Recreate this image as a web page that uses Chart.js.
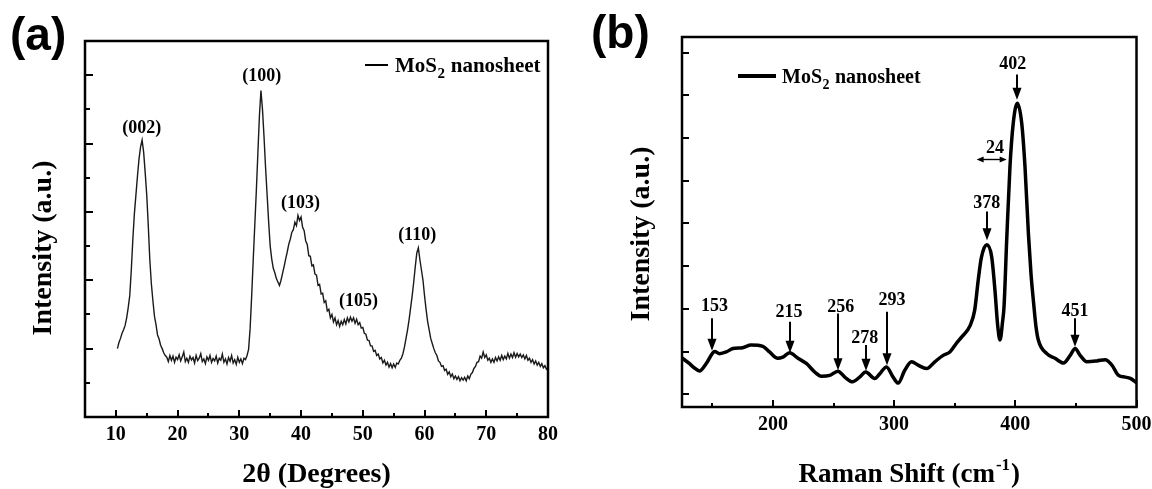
<!DOCTYPE html>
<html>
<head>
<meta charset="utf-8">
<script src="https://cdn.jsdelivr.net/npm/chart.js@4"></script>
<style>
html,body{margin:0;padding:0;background:#fff;}
#wrap{position:relative;width:1152px;height:489px;overflow:hidden;}
.panel{position:absolute;top:0;width:576px;height:489px;}
canvas{display:block;}
</style>
</head>
<body>
<div id="wrap">
  <div class="panel" style="left:0"><canvas id="xrd" width="576" height="489"></canvas></div>
  <div class="panel" style="left:576px"><canvas id="raman" width="576" height="489"></canvas></div>
</div>
<script>
// ---------------- DATA ----------------
const SERIES_NAME = ['MoS', '2', ' nanosheet'];

// (a) XRD pattern
const XRD_TWO_THETA = [
  10.25,10.5,10.75,11,11.25,11.5,11.75,12,12.25,12.5,
  12.75,13,13.25,13.5,13.75,14,14.25,14.5,14.75,15,
  15.25,15.5,15.75,16,16.25,16.5,16.75,17,17.25,17.5,
  17.75,18,18.25,18.5,18.75,19,19.25,19.5,19.75,20,
  20.25,20.5,20.75,21,21.25,21.5,21.75,22,22.25,22.5,
  22.75,23,23.25,23.5,23.75,24,24.25,24.5,24.75,25,
  25.25,25.5,25.75,26,26.25,26.5,26.75,27,27.25,27.5,
  27.75,28,28.25,28.5,28.75,29,29.25,29.5,29.75,30,
  30.25,30.5,30.75,31,31.25,31.5,31.75,32,32.25,32.5,
  32.75,33,33.25,33.5,33.75,34,34.25,34.5,34.75,35,
  35.25,35.5,35.75,36,36.25,36.5,36.75,37,37.25,37.5,
  37.75,38,38.25,38.5,38.75,39,39.25,39.5,39.75,40,
  40.25,40.5,40.75,41,41.25,41.5,41.75,42,42.25,42.5,
  42.75,43,43.25,43.5,43.75,44,44.25,44.5,44.75,45,
  45.25,45.5,45.75,46,46.25,46.5,46.75,47,47.25,47.5,
  47.75,48,48.25,48.5,48.75,49,49.25,49.5,49.75,50,
  50.25,50.5,50.75,51,51.25,51.5,51.75,52,52.25,52.5,
  52.75,53,53.25,53.5,53.75,54,54.25,54.5,54.75,55,
  55.25,55.5,55.75,56,56.25,56.5,56.75,57,57.25,57.5,
  57.75,58,58.25,58.5,58.75,59,59.25,59.5,59.75,60,
  60.25,60.5,60.75,61,61.25,61.5,61.75,62,62.25,62.5,
  62.75,63,63.25,63.5,63.75,64,64.25,64.5,64.75,65,
  65.25,65.5,65.75,66,66.25,66.5,66.75,67,67.25,67.5,
  67.75,68,68.25,68.5,68.75,69,69.25,69.5,69.75,70,
  70.25,70.5,70.75,71,71.25,71.5,71.75,72,72.25,72.5,
  72.75,73,73.25,73.5,73.75,74,74.25,74.5,74.75,75,
  75.25,75.5,75.75,76,76.25,76.5,76.75,77,77.25,77.5,
  77.75,78,78.25,78.5,78.75,79,79.25,79.5,79.75,80
];
const XRD_INTENSITY = [
  2.0,2.18,2.3,2.45,2.55,2.68,2.9,3.2,3.55,4.3,
  5.2,5.95,6.5,7.05,7.55,7.9,8.1,7.75,7.15,6.5,
  5.6,4.6,3.9,3.4,2.95,2.7,2.4,2.28,2.1,2.0,
  1.88,1.8,1.75,1.62,1.8,1.66,1.78,1.6,1.75,1.68,
  1.82,1.64,1.76,1.9,1.62,1.72,1.6,1.78,1.67,1.74,
  1.58,1.8,1.65,1.72,1.85,1.62,1.7,1.56,1.76,1.66,
  1.8,1.6,1.71,1.64,1.78,1.58,1.72,1.66,1.84,1.6,
  1.7,1.55,1.74,1.63,1.8,1.58,1.68,1.54,1.75,1.6,
  1.7,1.56,1.72,1.68,1.8,1.98,2.6,3.55,4.6,5.6,
  6.6,7.7,8.8,9.55,9.0,8.2,7.3,6.5,5.7,5.0,
  4.62,4.35,4.22,4.05,3.95,3.85,4.0,4.2,4.4,4.62,
  4.82,5.05,5.2,5.4,5.48,5.7,5.6,5.9,5.75,5.85,
  5.55,5.45,5.15,5.05,4.72,4.7,4.42,4.45,4.18,4.15,
  3.85,3.88,3.6,3.62,3.35,3.4,3.1,3.15,2.9,3.0,
  2.78,2.9,2.7,2.82,2.65,2.8,2.7,2.85,2.72,2.9,
  2.78,2.92,2.8,2.9,2.74,2.86,2.7,2.76,2.6,2.62,
  2.45,2.42,2.25,2.24,2.08,2.08,1.92,1.95,1.8,1.84,
  1.7,1.74,1.58,1.66,1.52,1.6,1.46,1.56,1.44,1.55,
  1.45,1.58,1.55,1.66,1.72,1.85,2.05,2.3,2.55,2.85,
  3.2,3.55,3.95,4.4,4.8,4.95,4.6,4.3,4.0,3.55,
  3.15,2.8,2.55,2.3,2.15,2.0,1.88,1.8,1.64,1.6,
  1.48,1.5,1.36,1.4,1.25,1.32,1.18,1.26,1.12,1.2,
  1.1,1.18,1.06,1.15,1.08,1.16,1.06,1.2,1.12,1.25,
  1.3,1.42,1.48,1.6,1.62,1.78,1.72,1.9,1.74,1.82,
  1.66,1.72,1.6,1.7,1.6,1.74,1.64,1.76,1.66,1.8,
  1.68,1.78,1.7,1.86,1.72,1.84,1.74,1.88,1.75,1.86,
  1.76,1.84,1.74,1.82,1.7,1.8,1.66,1.72,1.6,1.68,
  1.55,1.64,1.52,1.6,1.48,1.56,1.44,1.5,1.4,1.45
];
const XRD_X_TICKS = [10,20,30,40,50,60,70,80];
const XRD_X_MINOR = [15,25,35,45,55,65,75];
const XRD_Y_MAJOR = [2,4,6,8,10];
const XRD_Y_MINOR = [1,3,5,7,9];
const XRD_PEAK_LABELS = ['(002)','(100)','(103)','(105)','(110)'];
const XRD_PEAK_X = [14.2,33.65,39.9,49.3,58.8];
const XRD_PEAK_Y = [8.45,9.96,6.25,3.37,5.32];

// (b) Raman spectrum
const RAMAN_SHIFT = [
  125,131,135,139.4,145,150.4,152,156,161.5,167,175,182,191.7,197.2,204,208.2,213.8,220.7,227.6,234.5,
  240,246.9,253.7,259.3,265.6,271.6,276.6,284,288.2,293.7,299.2,303.3,308.8,314.4,319.8,326.8,333.6,340.5,346,351.6,
  356,362.6,366.5,369.4,372,376.4,380.5,383.2,385.5,387.4,389.5,390.7,392.9,395.6,398.3,401.7,405.3,408,410.8,413,
  414.9,417,419,426,432.8,439.7,445.3,449.4,453.5,459,467.3,474.2,479.7,485.2,490.7,494.9,500
];
const RAMAN_INTENSITY = [
  0.85,0.72,0.62,0.545,0.72,0.97,1.0,0.95,0.99,1.07,1.09,1.15,1.12,0.99,0.84,0.87,0.97,0.84,0.72,0.52,
  0.42,0.44,0.54,0.40,0.29,0.40,0.52,0.37,0.48,0.64,0.40,0.26,0.56,0.76,0.68,0.60,0.76,0.91,0.99,1.2,
  1.35,1.6,1.97,2.67,3.2,3.5,3.22,2.44,1.6,1.27,1.7,2.05,3.61,5.33,6.35,6.82,6.35,5.33,3.77,2.8,
  2.2,1.6,1.27,0.95,0.84,0.73,0.91,1.07,0.91,0.76,0.78,0.81,0.68,0.44,0.40,0.37,0.27
];
const RAMAN_X_TICKS = [200,300,400,500];
const RAMAN_X_MINOR = [150,250,350,450];
const RAMAN_Y_TICKS = [0,1,2,3,4,5,6,7,8];
const RAMAN_PEAK_LABELS = ['153','215','256','278','293','378','402','451'];
const RAMAN_LABEL_X = [151.8,213.2,256,275.8,298.3,376.4,397.9,449.3];
const RAMAN_LABEL_Y = [2.06,1.91,2.03,1.31,2.19,4.47,7.72,1.93];
const RAMAN_ARROW_X = [150.1,213.8,253.5,276.6,294,376.4,401.4,449.3];
const RAMAN_ARROW_TOP = [1.78,1.70,1.89,1.15,1.93,4.28,7.49,1.78];
const RAMAN_ARROW_TIP = [1.02,0.97,0.56,0.55,0.68,3.61,6.9,1.11];
const RAMAN_SPLIT_LABEL = '24';
const RAMAN_SPLIT = {from: 368.1, to: 392.9, y: 5.51, labelX: 383.2, labelY: 5.77};

// ---------------- HELPERS ----------------
const SERIF = '"Liberation Serif","Times New Roman",serif';
const SANS = '"Liberation Sans",Arial,sans-serif';
function serif(size){ return 'bold ' + size + 'px ' + SERIF; }

function drawFrame(chart, o){
  const {ctx, chartArea:a, scales:{x, y}} = chart;
  ctx.save();
  ctx.strokeStyle = '#000';
  ctx.lineWidth = 2;
  ctx.beginPath();
  o.xMajor.forEach(v => { const p = Math.round(x.getPixelForValue(v)); ctx.moveTo(p, a.bottom); ctx.lineTo(p, a.bottom - o.xMajorLen); });
  o.xMinor.forEach(v => { const p = Math.round(x.getPixelForValue(v)); ctx.moveTo(p, a.bottom); ctx.lineTo(p, a.bottom - o.xMinorLen); });
  o.yMajor.forEach(v => { const p = Math.round(y.getPixelForValue(v)); ctx.moveTo(a.left, p); ctx.lineTo(a.left + o.yMajorLen, p); });
  o.yMinor.forEach(v => { const p = Math.round(y.getPixelForValue(v)); ctx.moveTo(a.left, p); ctx.lineTo(a.left + o.yMinorLen, p); });
  ctx.stroke();
  ctx.lineWidth = o.border;
  ctx.strokeRect(a.left, a.top, a.right - a.left, a.bottom - a.top);
  ctx.restore();
}

function drawLegend(ctx, x0, x1, ly, lw, tx, base, size){
  ctx.save();
  ctx.strokeStyle = '#000'; ctx.lineWidth = lw;
  ctx.beginPath(); ctx.moveTo(x0, ly); ctx.lineTo(x1, ly); ctx.stroke();
  ctx.fillStyle = '#000'; ctx.textAlign = 'left'; ctx.textBaseline = 'alphabetic';
  ctx.font = serif(size);
  ctx.fillText(SERIES_NAME[0], tx, base);
  const w1 = ctx.measureText(SERIES_NAME[0]).width;
  const sub = Math.round(size * 0.7);
  ctx.font = serif(sub);
  ctx.fillText(SERIES_NAME[1], tx + w1 + 0.5, base + size * 0.3);
  const w2 = ctx.measureText(SERIES_NAME[1]).width;
  ctx.font = serif(size);
  ctx.fillText(SERIES_NAME[2], tx + w1 + w2 + 1, base);
  ctx.restore();
}

function drawText(ctx, text, x, y, font, rot){
  ctx.save();
  ctx.fillStyle = '#000';
  ctx.font = font;
  ctx.textAlign = 'center';
  ctx.textBaseline = 'middle';
  ctx.translate(x, y);
  if (rot) ctx.rotate(rot);
  ctx.fillText(text, 0, 0);
  ctx.restore();
}

function arrowDown(ctx, x, yTop, yTip){
  const hw = 9, hl = 12;
  ctx.save();
  ctx.strokeStyle = '#000'; ctx.fillStyle = '#000'; ctx.lineWidth = 2;
  ctx.beginPath(); ctx.moveTo(x, yTop); ctx.lineTo(x, yTip - hl + 2); ctx.stroke();
  ctx.beginPath(); ctx.moveTo(x - hw / 2, yTip - hl); ctx.lineTo(x + hw / 2, yTip - hl); ctx.lineTo(x, yTip); ctx.closePath(); ctx.fill();
  ctx.restore();
}

function doubleArrow(ctx, xL, xR, y){
  const hw = 6, hl = 7;
  ctx.save();
  ctx.strokeStyle = '#000'; ctx.fillStyle = '#000'; ctx.lineWidth = 1.4;
  ctx.beginPath(); ctx.moveTo(xL + hl - 1, y); ctx.lineTo(xR - hl + 1, y); ctx.stroke();
  ctx.beginPath(); ctx.moveTo(xL, y); ctx.lineTo(xL + hl, y - hw / 2); ctx.lineTo(xL + hl, y + hw / 2); ctx.closePath(); ctx.fill();
  ctx.beginPath(); ctx.moveTo(xR, y); ctx.lineTo(xR - hl, y - hw / 2); ctx.lineTo(xR - hl, y + hw / 2); ctx.closePath(); ctx.fill();
  ctx.restore();
}

function panelLabel(ctx, text, x, base){
  ctx.save();
  ctx.fillStyle = '#000';
  ctx.font = 'bold 46px ' + SANS;
  ctx.textAlign = 'left'; ctx.textBaseline = 'alphabetic';
  ctx.fillText(text, x, base);
  ctx.restore();
}

function fixedX(h){ return s => { s.height = h; s.paddingLeft = 0; s.paddingRight = 0; }; }
function fixedY(w){ return s => { s.width = w; s.paddingTop = 0; s.paddingBottom = 0; }; }
function ticksFrom(arr){ return s => { s.ticks = arr.map(v => ({value: v})); }; }

const tickFont = {family: SERIF, weight: 'bold', size: 20, lineHeight: 1};

// ---------------- (a) XRD ----------------
const xrdPlugin = {
  id: 'xrdDecor',
  afterDraw(chart){
    const {ctx, chartArea:a, scales:{x, y}} = chart;
    drawFrame(chart, {xMajor: XRD_X_TICKS, xMinor: XRD_X_MINOR, yMajor: XRD_Y_MAJOR, yMinor: XRD_Y_MINOR,
      xMajorLen: 7, xMinorLen: 4, yMajorLen: 8, yMinorLen: 5, border: 2.5});
    XRD_PEAK_LABELS.forEach((t, i) => drawText(ctx, t, x.getPixelForValue(XRD_PEAK_X[i]), y.getPixelForValue(XRD_PEAK_Y[i]), serif(18)));
    drawLegend(ctx, 365, 388, 65, 2, 395, 72, 21);
    drawText(ctx, '2θ (Degrees)', (a.left + a.right) / 2, 475, serif(28));
    drawText(ctx, 'Intensity (a.u.)', 44, 248, serif(28), -Math.PI / 2);
    panelLabel(ctx, '(a)', 10, 50);
  }
};

new Chart(document.getElementById('xrd'), {
  type: 'line',
  data: {
    datasets: [{
      data: XRD_TWO_THETA.map((t, i) => ({x: t, y: XRD_INTENSITY[i]})),
      borderColor: '#1a1a1a', borderWidth: 1.4, pointRadius: 0, tension: 0, fill: false
    }]
  },
  options: {
    responsive: false, animation: false, events: [],
    layout: {padding: {top: 41, right: 28, left: 0, bottom: 0}},
    plugins: {legend: {display: false}, tooltip: {enabled: false}},
    scales: {
      x: {
        type: 'linear', min: 5, max: 80,
        afterBuildTicks: ticksFrom(XRD_X_TICKS), afterFit: fixedX(72),
        grid: {display: false, drawTicks: false}, border: {display: false},
        ticks: {padding: 8, color: '#000', font: tickFont, maxRotation: 0, autoSkip: false},
        title: {display: false}
      },
      y: {
        type: 'linear', min: 0, max: 11,
        afterBuildTicks: ticksFrom(XRD_Y_MAJOR.concat(XRD_Y_MINOR)), afterFit: fixedY(85),
        grid: {display: false, drawTicks: false}, border: {display: false},
        ticks: {display: false},
        title: {display: false}
      }
    }
  },
  plugins: [xrdPlugin]
});

// ---------------- (b) Raman ----------------
const ramanPlugin = {
  id: 'ramanDecor',
  afterDraw(chart){
    const {ctx, chartArea:a, scales:{x, y}} = chart;
    drawFrame(chart, {xMajor: RAMAN_X_TICKS, xMinor: RAMAN_X_MINOR, yMajor: RAMAN_Y_TICKS, yMinor: [],
      xMajorLen: 7, xMinorLen: 4, yMajorLen: 7, yMinorLen: 4, border: 2.5});
    RAMAN_PEAK_LABELS.forEach((t, i) => {
      drawText(ctx, t, x.getPixelForValue(RAMAN_LABEL_X[i]), y.getPixelForValue(RAMAN_LABEL_Y[i]), serif(18));
      arrowDown(ctx, Math.round(x.getPixelForValue(RAMAN_ARROW_X[i])), y.getPixelForValue(RAMAN_ARROW_TOP[i]), y.getPixelForValue(RAMAN_ARROW_TIP[i]));
    });
    doubleArrow(ctx, x.getPixelForValue(RAMAN_SPLIT.from), x.getPixelForValue(RAMAN_SPLIT.to), Math.round(y.getPixelForValue(RAMAN_SPLIT.y)) + 0.5);
    drawText(ctx, RAMAN_SPLIT_LABEL, x.getPixelForValue(RAMAN_SPLIT.labelX), y.getPixelForValue(RAMAN_SPLIT.labelY), serif(18));
    drawLegend(ctx, 162, 200, 76, 4, 206, 83, 20);
    ctx.save();
    ctx.fillStyle = '#000'; ctx.textAlign = 'left'; ctx.textBaseline = 'alphabetic';
    const main = 'Raman Shift (cm', sup = '-1', close = ')';
    ctx.font = serif(27); const w1 = ctx.measureText(main).width; const w3 = ctx.measureText(close).width;
    ctx.font = serif(17); const w2 = ctx.measureText(sup).width;
    const cx = (a.left + a.right) / 2, base = 482;
    const x0 = cx - (w1 + w2 + w3 + 2) / 2;
    ctx.font = serif(27); ctx.fillText(main, x0, base);
    ctx.font = serif(17); ctx.fillText(sup, x0 + w1 + 1, base - 12);
    ctx.font = serif(27); ctx.fillText(close, x0 + w1 + w2 + 2, base);
    ctx.restore();
    drawText(ctx, 'Intensity (a.u.)', 66, 234, serif(28), -Math.PI / 2);
    panelLabel(ctx, '(b)', 15, 48);
  }
};

new Chart(document.getElementById('raman'), {
  type: 'line',
  data: {
    datasets: [{
      data: RAMAN_SHIFT.map((s, i) => ({x: s, y: RAMAN_INTENSITY[i]})),
      borderColor: '#000', borderWidth: 3.5, pointRadius: 0, cubicInterpolationMode: 'monotone', fill: false,
      borderJoinStyle: 'round', borderCapStyle: 'round'
    }]
  },
  options: {
    responsive: false, animation: false, events: [],
    layout: {padding: {top: 37, right: 15.5, left: 0, bottom: 0}},
    plugins: {legend: {display: false}, tooltip: {enabled: false}},
    scales: {
      x: {
        type: 'linear', min: 125, max: 500,
        afterBuildTicks: ticksFrom(RAMAN_X_TICKS), afterFit: fixedX(82),
        grid: {display: false, drawTicks: false}, border: {display: false},
        ticks: {padding: 8, color: '#000', font: tickFont, maxRotation: 0, autoSkip: false},
        title: {display: false}
      },
      y: {
        type: 'linear', min: -0.3, max: 8.37,
        afterBuildTicks: ticksFrom(RAMAN_Y_TICKS), afterFit: fixedY(106),
        grid: {display: false, drawTicks: false}, border: {display: false},
        ticks: {display: false},
        title: {display: false}
      }
    }
  },
  plugins: [ramanPlugin]
});
</script>
</body>
</html>
